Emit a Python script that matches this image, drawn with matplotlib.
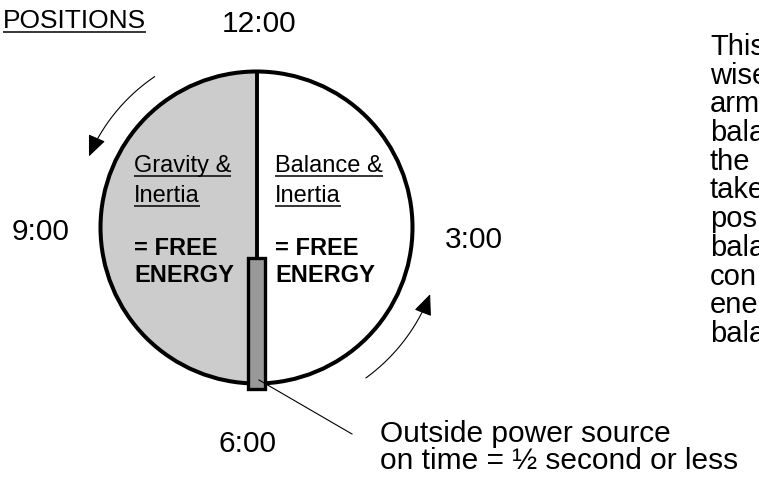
import matplotlib
matplotlib.use('Agg')
import matplotlib.pyplot as plt
import matplotlib.patches as mpatches
from matplotlib.path import Path
import numpy as np

plt.rcParams['font.family'] = ['Liberation Sans', 'DejaVu Sans']

# ---- diagram content ----
CLOCK_LABELS = ['12:00', '3:00', '6:00', '9:00']
CLOCK_POS = [(222, 32), (445, 248), (218, 452), (12, 240)]   # left x, baseline y

LEFT_TITLE = ['Gravity &', 'Inertia']
RIGHT_TITLE = ['Balance &', 'Inertia']
FREE_TEXT = ['= FREE', 'ENERGY']

POWER_NOTE = ['Outside power source', 'on time = \u00bd second or less']

# side note, only the part that is visible before the right edge
SIDE_NOTE = ['This', 'wise', 'arm', 'bala', 'the', 'take', 'pos',
             'bala', 'con', 'ene', 'bala']

CX, CY, R = 256.5, 227.5, 156

fig = plt.figure(figsize=(7.59, 4.8), dpi=100)
ax = fig.add_axes([0, 0, 1, 1])
ax.set_xlim(0, 759)
ax.set_ylim(480, 0)
ax.axis('off')


def underline(t, dy=4, lw=1.1):
    fig.canvas.draw()
    bb = t.get_window_extent(fig.canvas.get_renderer())
    bb = bb.transformed(ax.transData.inverted())
    x0, x1 = sorted([bb.x0, bb.x1])
    y = t.get_position()[1] + dy
    ax.plot([x0, x1], [y, y], color='black', lw=lw, solid_capstyle='butt')


# left half shaded, whole circle outline
ax.add_patch(mpatches.Wedge((CX, CY), R, 90, 270, facecolor='#cccccc',
                            edgecolor='none'))
ax.add_patch(mpatches.Circle((CX, CY), R, facecolor='none',
                             edgecolor='black', lw=2.9))
ax.plot([CX, CX], [CY - R, 257], color='black', lw=2.8)

# outside power source bar
ax.add_patch(mpatches.Rectangle((247.5, 257.5), 17, 131, facecolor='#999999',
                                edgecolor='black', lw=2.4))
ax.plot([259, 352], [380, 434], color='black', lw=0.8)


def arc_arrow(r, t0, t1):
    th = np.radians(np.linspace(t0, t1, 60))
    verts = np.column_stack([CX + r * np.cos(th), CY - r * np.sin(th)])
    arr = mpatches.FancyArrowPatch(
        path=Path(verts),
        arrowstyle='-|>,head_length=0.65,head_width=0.28',
        mutation_scale=20, color='black', lw=0.8)
    ax.add_patch(arr)


arc_arrow(182, 124, 157)
arc_arrow(186, -54, -21)

# clock positions
for lab, (x, y) in zip(CLOCK_LABELS, CLOCK_POS):
    ax.text(x, y, lab, fontsize=21.5, ha='left', va='baseline')

t = ax.text(3, 28, 'POSITIONS', fontsize=19, ha='left', va='baseline')
underline(t)

for i, (l, r) in enumerate(zip(LEFT_TITLE, RIGHT_TITLE)):
    y = 172 + i * 30
    underline(ax.text(134, y, l, fontsize=17, ha='left', va='baseline'))
    underline(ax.text(275, y, r, fontsize=17, ha='left', va='baseline'))

for i, s in enumerate(FREE_TEXT):
    y = 255 + i * 27
    ax.text(134, y, s, fontsize=17, fontweight='bold', ha='left', va='baseline')
    ax.text(275, y, s, fontsize=17, fontweight='bold', ha='left', va='baseline')

for i, s in enumerate(POWER_NOTE):
    ax.text(380, 442 + i * 27, s, fontsize=21.5, ha='left', va='baseline')

for i, s in enumerate(SIDE_NOTE):
    ax.text(710, 55 + i * 28.7, s, fontsize=21, ha='left', va='baseline',
            clip_on=True)

fig.savefig('out.png', dpi=100, facecolor='white')
